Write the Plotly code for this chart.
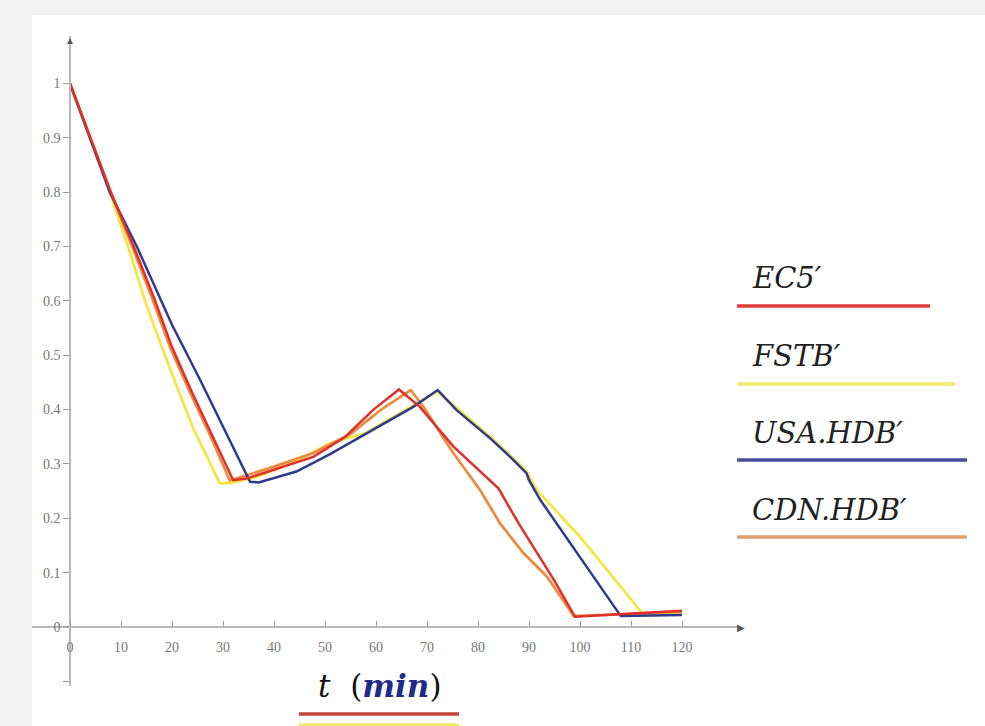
import plotly.graph_objects as go

# ---------------- data ----------------
ec5_t = [0, 8, 12.5, 16.5, 20, 24, 28, 32, 34.6, 40, 47.7, 54, 59.5, 64.5,
         68.6, 75.2, 80, 84, 88, 92, 95, 99, 120]
ec5_v = [1.0, 0.80, 0.70, 0.605, 0.515, 0.43, 0.35, 0.27, 0.273, 0.29, 0.313, 0.35,
         0.40, 0.437, 0.405, 0.332, 0.29, 0.255, 0.19, 0.13, 0.085, 0.019, 0.03]

fstb_t = [0, 7.8, 11.4, 14.7, 16.7, 20.3, 24.2, 29.4, 32, 36, 43.8, 51, 58, 66, 72,
          76, 82.4, 86.3, 89.5, 91.5, 100, 112.5, 120]
fstb_v = [1.0, 0.80, 0.70, 0.60, 0.548, 0.458, 0.365, 0.264, 0.266, 0.274, 0.302,
          0.338, 0.357, 0.40, 0.433, 0.402, 0.35, 0.316, 0.287, 0.252, 0.166, 0.022, 0.025]

usa_t = [0, 7.8, 13.1, 18, 20, 25.5, 30.4, 35.3, 37, 44.4, 51, 58.2, 67.3, 72.1,
         75.8, 82.4, 86.3, 89.5, 90, 92.2, 100, 108, 120]
usa_v = [1.0, 0.80, 0.70, 0.60, 0.556, 0.455, 0.362, 0.267, 0.266, 0.286, 0.318,
         0.356, 0.405, 0.436, 0.399, 0.347, 0.313, 0.283, 0.27, 0.234, 0.129, 0.02, 0.022]

cdn_t = [0, 8, 12.2, 16.1, 19.6, 23.6, 27.6, 31.3, 35, 40, 47.7, 55, 61, 66.8, 69.3,
         75, 80.4, 84.3, 88.9, 93.5, 98.8, 120]
cdn_v = [1.0, 0.80, 0.70, 0.605, 0.515, 0.43, 0.35, 0.27, 0.28, 0.295, 0.32, 0.355,
         0.40, 0.436, 0.405, 0.322, 0.252, 0.191, 0.136, 0.093, 0.02, 0.028]

series_names = ["EC5′", "FSTB′", "USA.HDB′", "CDN.HDB′"]
x_ticks = list(range(0, 121, 10))
y_ticks = [-0.1, 0, 0.1, 0.2, 0.3, 0.4, 0.5, 0.6, 0.7, 0.8, 0.9, 1.0]
y_ticktext = ["", "0", "0.1", "0.2", "0.3", "0.4", "0.5", "0.6", "0.7", "0.8", "0.9", "1"]

# ---------------- styling ----------------
W, H = 985, 726
ML, MR, MT, MB = 32, 247, 36, 40
PW, PH = W - ML - MR, H - MT - MB

def fx(px):  # pixel -> paper x
    return (px - ML) / PW

def fy(py):  # pixel -> paper y
    return (H - MB - py) / PH

c_red, c_yel, c_blu, c_org = "#e0302a", "#f3e640", "#2e3a8c", "#ee8a3c"
axis_grey = "#b8b8b8"
tick_font = dict(family="Liberation Serif, DejaVu Serif, serif", size=14, color="#777777")

fig = go.Figure()
fig.add_trace(go.Scatter(x=fstb_t, y=fstb_v, mode="lines", name=series_names[1],
                         line=dict(color=c_yel, width=2.7), showlegend=False))
fig.add_trace(go.Scatter(x=cdn_t, y=cdn_v, mode="lines", name=series_names[3],
                         line=dict(color=c_org, width=2.7), showlegend=False))
fig.add_trace(go.Scatter(x=usa_t, y=usa_v, mode="lines", name=series_names[2],
                         line=dict(color=c_blu, width=2.5), showlegend=False))
fig.add_trace(go.Scatter(x=ec5_t, y=ec5_v, mode="lines", name=series_names[0],
                         line=dict(color=c_red, width=2.5), showlegend=False))

shapes = []
# grey frame strips (left and top)
shapes.append(dict(type="rect", xref="paper", yref="paper", x0=fx(0), x1=fx(32),
                   y0=fy(H), y1=fy(0), fillcolor="#f3f3f3", line=dict(width=0), layer="below"))
shapes.append(dict(type="rect", xref="paper", yref="paper", x0=fx(0), x1=fx(W),
                   y0=fy(15), y1=fy(0), fillcolor="#f3f3f3", line=dict(width=0), layer="below"))

annotations = []
# custom legend: text above a coloured line
legend_items = [
    (series_names[0], 278, 306, 930, "#e03a3a"),
    (series_names[1], 356, 384, 955, "#f1ea6a"),
    (series_names[2], 433, 460, 967, "#474c96"),
    (series_names[3], 510, 537, 967, "#dca06c"),
]
for name, ty, ly, lx1, col in legend_items:
    annotations.append(dict(xref="paper", yref="paper", x=fx(750), y=fy(ty),
                            xanchor="left", yanchor="middle", showarrow=False,
                            text="<i>" + name + "</i>",
                            font=dict(family="DejaVu Serif, serif", size=29, color="#222222")))
    shapes.append(dict(type="line", xref="paper", yref="paper", x0=fx(737), x1=fx(lx1),
                       y0=fy(ly), y1=fy(ly), line=dict(color=col, width=3.5)))

# x axis title with Mathcad-style trace markers
annotations.append(dict(xref="paper", yref="paper", x=fx(380), y=fy(686),
                        xanchor="center", yanchor="middle", showarrow=False,
                        text="<i>t</i>  (<b><i><span style='color:#1f2a8a'>min</span></i></b>)",
                        font=dict(family="DejaVu Serif, serif", size=31, color="#111111")))
shapes.append(dict(type="line", xref="paper", yref="paper", x0=fx(299), x1=fx(459),
                   y0=fy(714), y1=fy(714), line=dict(color="#c4423a", width=3.5)))
shapes.append(dict(type="line", xref="paper", yref="paper", x0=fx(299), x1=fx(459),
                   y0=fy(725), y1=fy(725), line=dict(color="#f1ea6a", width=3.5)))

# axis arrow heads
annotations.append(dict(xref="paper", yref="paper", x=fx(70), y=fy(40),
                        xanchor="center", yanchor="middle", showarrow=False, text="▲",
                        font=dict(size=10, color="#555555")))
annotations.append(dict(xref="paper", yref="paper", x=fx(741), y=fy(627),
                        xanchor="center", yanchor="middle", showarrow=False, text="▶",
                        font=dict(size=10, color="#555555")))

fig.update_layout(
    width=W, height=H,
    margin=dict(l=ML, r=MR, t=MT, b=MB, autoexpand=False),
    paper_bgcolor="white", plot_bgcolor="white",
    showlegend=False,
    shapes=shapes, annotations=annotations,
    xaxis=dict(range=[-7.45, 130.98], anchor="free", position=fy(627),
               showgrid=False, zeroline=False, showline=True, linecolor=axis_grey, linewidth=1.5,
               tickmode="array", tickvals=x_ticks, ticks="inside", ticklen=5,
               tickcolor="#999999", tickfont=tick_font, ticklabelstandoff=7,
               fixedrange=True),
    yaxis=dict(range=[-0.1086, 1.0874], anchor="free", position=fx(70),
               showgrid=False, zeroline=False, showline=True, linecolor=axis_grey, linewidth=1.5,
               tickmode="array", tickvals=y_ticks, ticktext=y_ticktext, ticks="outside",
               ticklen=6, tickcolor="#999999", tickfont=tick_font, fixedrange=True),
)

fig.write_html(
    "out.html",
    config={"displayModeBar": False},
    post_script="document.body.style.margin='0';document.body.style.overflow='hidden';",
)
